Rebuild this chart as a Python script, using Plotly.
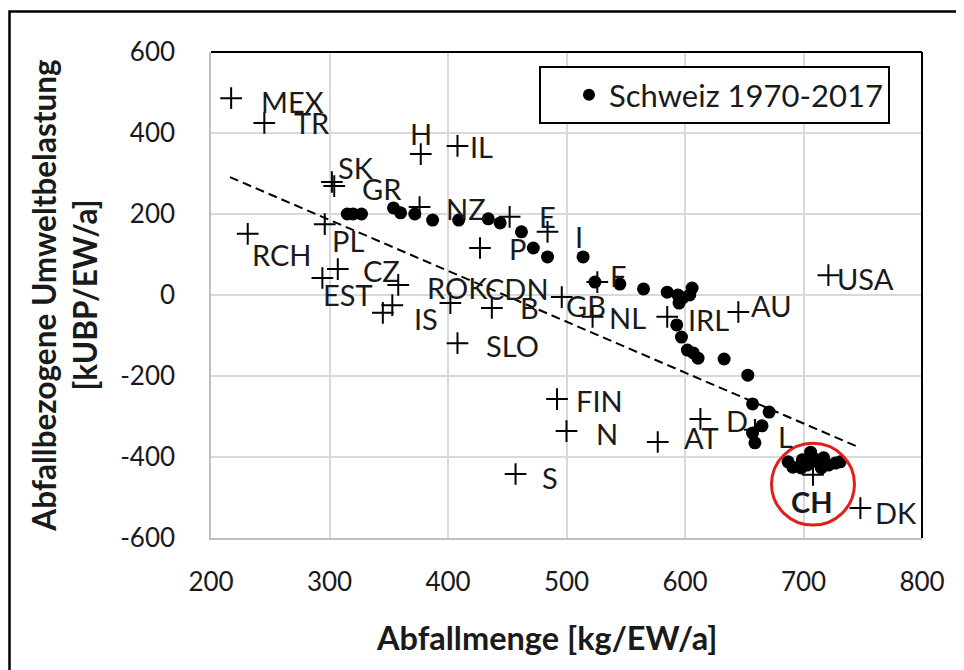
import plotly.graph_objects as go

# ---------------- data ----------------
# OECD countries (cross markers)
countries = ["MEX", "TR", "H", "IL", "SK", "GR", "NZ", "E", "I", "P",
             "RCH", "PL", "EST", "CZ", "ROK", "IS", "J", "SLO", "CDN", "B",
             "GB", "NL", "F", "FIN", "N", "S", "AT", "D", "L", "IRL",
             "AU", "USA", "CH", "DK"]
waste_kg = [217, 245, 377, 408, 302, 304, 376, 452, 484, 427,
            231, 296, 294, 307, 358, 353, 345, 408, 402, 437,
            496, 522, 526, 492, 500, 457, 577, 613, 659, 585,
            645, 721, 708, 748]
impact_kubp = [486, 425, 348, 368, 279, 269, 217, 193, 156, 116,
               151, 175, 42, 64, 25, -25, -44, -119, -20, -32,
               -5, -54, 32, -257, -336, -442, -363, -306, -333, -54,
               -42, 49, -444, -526]

# Switzerland 1970-2017
swiss_years = list(range(1970, 2018))
swiss_waste = [315, 320, 327, 354, 360, 372, 387, 409, 434, 444,
               462, 472, 484, 514, 524, 545, 565, 585, 594, 598,
               606, 604, 595, 593, 597, 602, 607, 611, 633, 653,
               657, 671, 665, 657, 659, 687, 691, 698, 699, 703,
               706, 708, 712, 715, 717, 721, 727, 731]
swiss_impact = [200, 200, 200, 215, 203, 200, 185, 185, 188, 178,
                156, 116, 94, 94, 32, 27, 15, 7, 0, -7,
                17, 0, -20, -74, -104, -136, -143, -156, -158, -198,
                -269, -289, -323, -341, -365, -412, -425, -427, -407, -420,
                -388, -402, -412, -427, -402, -420, -415, -412]

# linear trend over the countries (end points)
trend_x = [216, 746]
trend_y = [291, -375]

x_ticks = [200, 300, 400, 500, 600, 700, 800]
x_tick_labels = ["200", "300", "400", "500", "600", "700", "800"]
y_ticks = [-600, -400, -200, 0, 200, 400, 600]
y_tick_labels = ["-600", "-400", "-200", "0", "200", "400", "600"]

# ---------------- style / label placement (pixels) ----------------
LABEL_OFFSETS = {
    "MEX": (61, 3), "TR": (48, 0), "H": (0, -21), "IL": (24, 1),
    "SK": (24, -15), "GR": (48, 2), "NZ": (46, 1), "E": (38, 0),
    "I": (31, 5), "P": (37, 0), "RCH": (34, 21), "PL": (23, 16),
    "EST": (26, 17), "CZ": (44, 1), "ROK": (59, 3), "IS": (34, 13),
    "SLO": (55, 2), "CDN": (67, -15), "B": (38, 0), "GB": (24, 8),
    "NL": (35, 1), "F": (21, -7), "FIN": (42, 1), "N": (40, 2),
    "S": (34, 3), "AT": (44, -5), "D": (37, 2), "L": (31, 7),
    "IRL": (41, 3), "AU": (33, -7), "USA": (37, 3), "CH": (-1, 27),
    "DK": (36, 4),
}
FONT = "Lato, 'Open Sans', sans-serif"
TXT = "#1a1a1a"

fig = go.Figure()

fig.add_trace(go.Scatter(
    x=trend_x, y=trend_y, mode="lines",
    line=dict(color="black", width=2, dash="9px,5px"),
    showlegend=False, hoverinfo="skip"))

fig.add_trace(go.Scatter(
    x=waste_kg, y=impact_kubp, mode="markers", text=countries,
    marker=dict(symbol="cross-thin", size=15.5, color="black",
                line=dict(color="black", width=2)),
    name="OECD-Länder", showlegend=False))

fig.add_trace(go.Scatter(
    x=swiss_waste, y=swiss_impact, mode="markers", text=swiss_years,
    marker=dict(symbol="circle", size=13, color="black"),
    name="Schweiz 1970-2017"))

for c, xv, yv in zip(countries, waste_kg, impact_kubp):
    if c not in LABEL_OFFSETS:
        continue
    dx, dy = LABEL_OFFSETS[c]
    fig.add_annotation(
        x=xv, y=yv, xshift=dx, yshift=-dy, showarrow=False,
        text="<b>%s</b>" % c if c == "CH" else c,
        xanchor="center", yanchor="middle",
        font=dict(family=FONT, size=29, color=TXT))

# red circle around Switzerland
ci = countries.index("CH")
cx, cy = waste_kg[ci], impact_kubp[ci] - 23
fig.add_shape(type="circle", xref="x", yref="y",
              x0=cx - 35, x1=cx + 35, y0=cy - 101, y1=cy + 101,
              line=dict(color="#e0201b", width=3))

# plot-area frame (top and right black)
fig.add_shape(type="line", xref="paper", yref="paper", x0=0, x1=1, y0=1, y1=1,
              line=dict(color="black", width=2))
fig.add_shape(type="line", xref="paper", yref="paper", x0=1, x1=1, y0=0, y1=1,
              line=dict(color="black", width=2))
# outer chart border
fig.add_shape(type="rect", xref="paper", yref="paper",
              x0=-0.2834, x1=1.0549, y0=-0.33, y1=1.0835,
              line=dict(color="black", width=2.5))

# x axis title (placed like the reference, slightly left of centre)
fig.add_annotation(xref="paper", yref="paper", x=0.4726, y=-0.204,
                   xanchor="center", yanchor="middle", showarrow=False,
                   text="<b>Abfallmenge [kg/EW/a]</b>",
                   font=dict(family=FONT, size=32.5, color=TXT))

axis_common = dict(showgrid=True, gridcolor="#d9d9d9", gridwidth=1.5,
                   showline=True, linecolor="#bfbfbf", linewidth=1.5,
                   zeroline=False, ticks="",
                   tickfont=dict(family=FONT, size=26, color=TXT))

fig.update_xaxes(range=[200, 800], tickvals=x_ticks, ticktext=x_tick_labels,
                 ticklabelstandoff=20, **axis_common)
fig.update_yaxes(range=[-600, 600], tickvals=y_ticks, ticktext=y_tick_labels,
                 ticklabelstandoff=29,
                 title=dict(text="<b>Abfallbezogene Umweltbelastung<br>[kUBP/EW/a]</b>",
                            standoff=13,
                            font=dict(family=FONT, size=31.5, color=TXT)),
                 **axis_common)

fig.update_layout(
    width=956, height=662,
    margin=dict(l=203, r=42, t=44, b=132, autoexpand=False),
    paper_bgcolor="white", plot_bgcolor="white",
    font=dict(family=FONT, color=TXT),
    legend=dict(x=0.4613, y=0.971, xanchor="left", yanchor="top",
                bordercolor="black", borderwidth=2, bgcolor="white",
                indentation=28, itemsizing="constant",
                font=dict(family=FONT, size=31, color=TXT)),
)

fig.write_html("out.html")
